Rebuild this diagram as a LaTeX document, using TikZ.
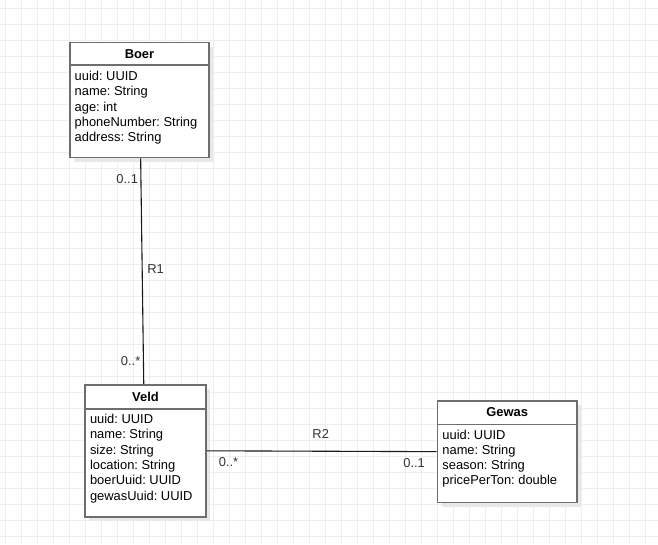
\documentclass[tikz,border=0pt]{standalone}
\usepackage{fontspec}
\setmainfont{Liberation Sans}
\usetikzlibrary{positioning, calc, shadows}
\definecolor{boxline}{RGB}{110,110,110}
\definecolor{gridgray}{RGB}{238,238,238}
\definecolor{shadowgray}{RGB}{232,232,232}
\definecolor{labelgray}{RGB}{51,51,51}
\frenchspacing
\newcommand{\umlfont}{\fontsize{12.9}{15.3}\selectfont}
\tikzset{
  classbox/.style={draw=boxline, line width=1.6pt, fill=white, rectangle, inner sep=0pt, anchor=north west,
    drop shadow={shadow xshift=4pt, shadow yshift=-4pt, fill=shadowgray, opacity=1}},
  classtitle/.style={font=\umlfont\bfseries, inner sep=0pt},
  attrs/.style={align=left, anchor=north west, inner sep=0pt},
  divider/.style={draw=boxline, line width=1.6pt},
  assoc/.style={draw=black!90, line width=1.1pt},
  mult/.style={text=labelgray, inner sep=0pt},
  gridline/.style={draw=gridgray, line width=1pt},
}

\begin{document}
\begin{tikzpicture}[x=1pt, y=-1pt, font=\umlfont]
  \useasboundingbox[fill=white] (0,0) rectangle (658,544);

  % background grid
  \foreach \gx in {5,21,...,653}
    \draw[gridline] (\gx,0) -- (\gx,544);
  \foreach \gy in {8,24,...,536}
    \draw[gridline] (0,\gy) -- (658,\gy);

  % classes
  \node[classbox, minimum width=139.3pt, minimum height=115pt] (boer) at (69,41.7) {};
  \node[classbox, minimum width=120.7pt, minimum height=132pt] (veld) at (84.3,384) {};
  \node[classbox, minimum width=139.3pt, minimum height=101.7pt] (gewas) at (436.7,400) {};

  \node[classtitle] (boer title) at ($(boer.north)+(0,12)$) {Boer};
  \draw[divider] ($(boer.north west)+(0,23.5)$) -- ($(boer.north east)+(0,23.5)$);
  \node[attrs] (boer attrs) at ($(boer.north west)+(5.5,29.3)$)
    {uuid: UUID\\name: String\\age: int\\phoneNumber: String\\address: String};

  \node[classtitle] (veld title) at ($(veld.north)+(0,12.5)$) {Veld};
  \draw[divider] ($(veld.north west)+(0,25)$) -- ($(veld.north east)+(0,25)$);
  \node[attrs] (veld attrs) at ($(veld.north west)+(5.5,30)$)
    {uuid: UUID\\name: String\\size: String\\location: String\\boerUuid: UUID\\gewasUuid: UUID};

  \node[classtitle] (gewas title) at ($(gewas.north)+(0,12)$) {Gewas};
  \draw[divider] ($(gewas.north west)+(0,24.3)$) -- ($(gewas.north east)+(0,24.3)$);
  \node[attrs] (gewas attrs) at ($(gewas.north west)+(5.5,29.5)$)
    {uuid: UUID\\name: String\\season: String\\pricePerTon: double};

  % associations
  \draw[assoc] ($(boer.south)+(1.2,0)$) -- ($(veld.north)+(-1.7,0)$)
    node[mult, pos=0.094, anchor=east, xshift=-2.4pt] (r1 boer) {0..1}
    node[mult, pos=0.49, anchor=west, xshift=4.6pt] (r1 label) {R1}
    node[mult, pos=0.8975, anchor=east, xshift=-2.6pt] (r1 veld) {0..*};

  \draw[assoc] (veld.east) -- (gewas.west)
    node[mult, pos=0.496, yshift=17.4pt] (r2 label) {R2}
    node[mult, pos=0.095, yshift=-10.8pt] (r2 veld) {0..*}
    node[mult, pos=0.902, yshift=-11.5pt] (r2 gewas) {0..1};
\end{tikzpicture}
\end{document}
